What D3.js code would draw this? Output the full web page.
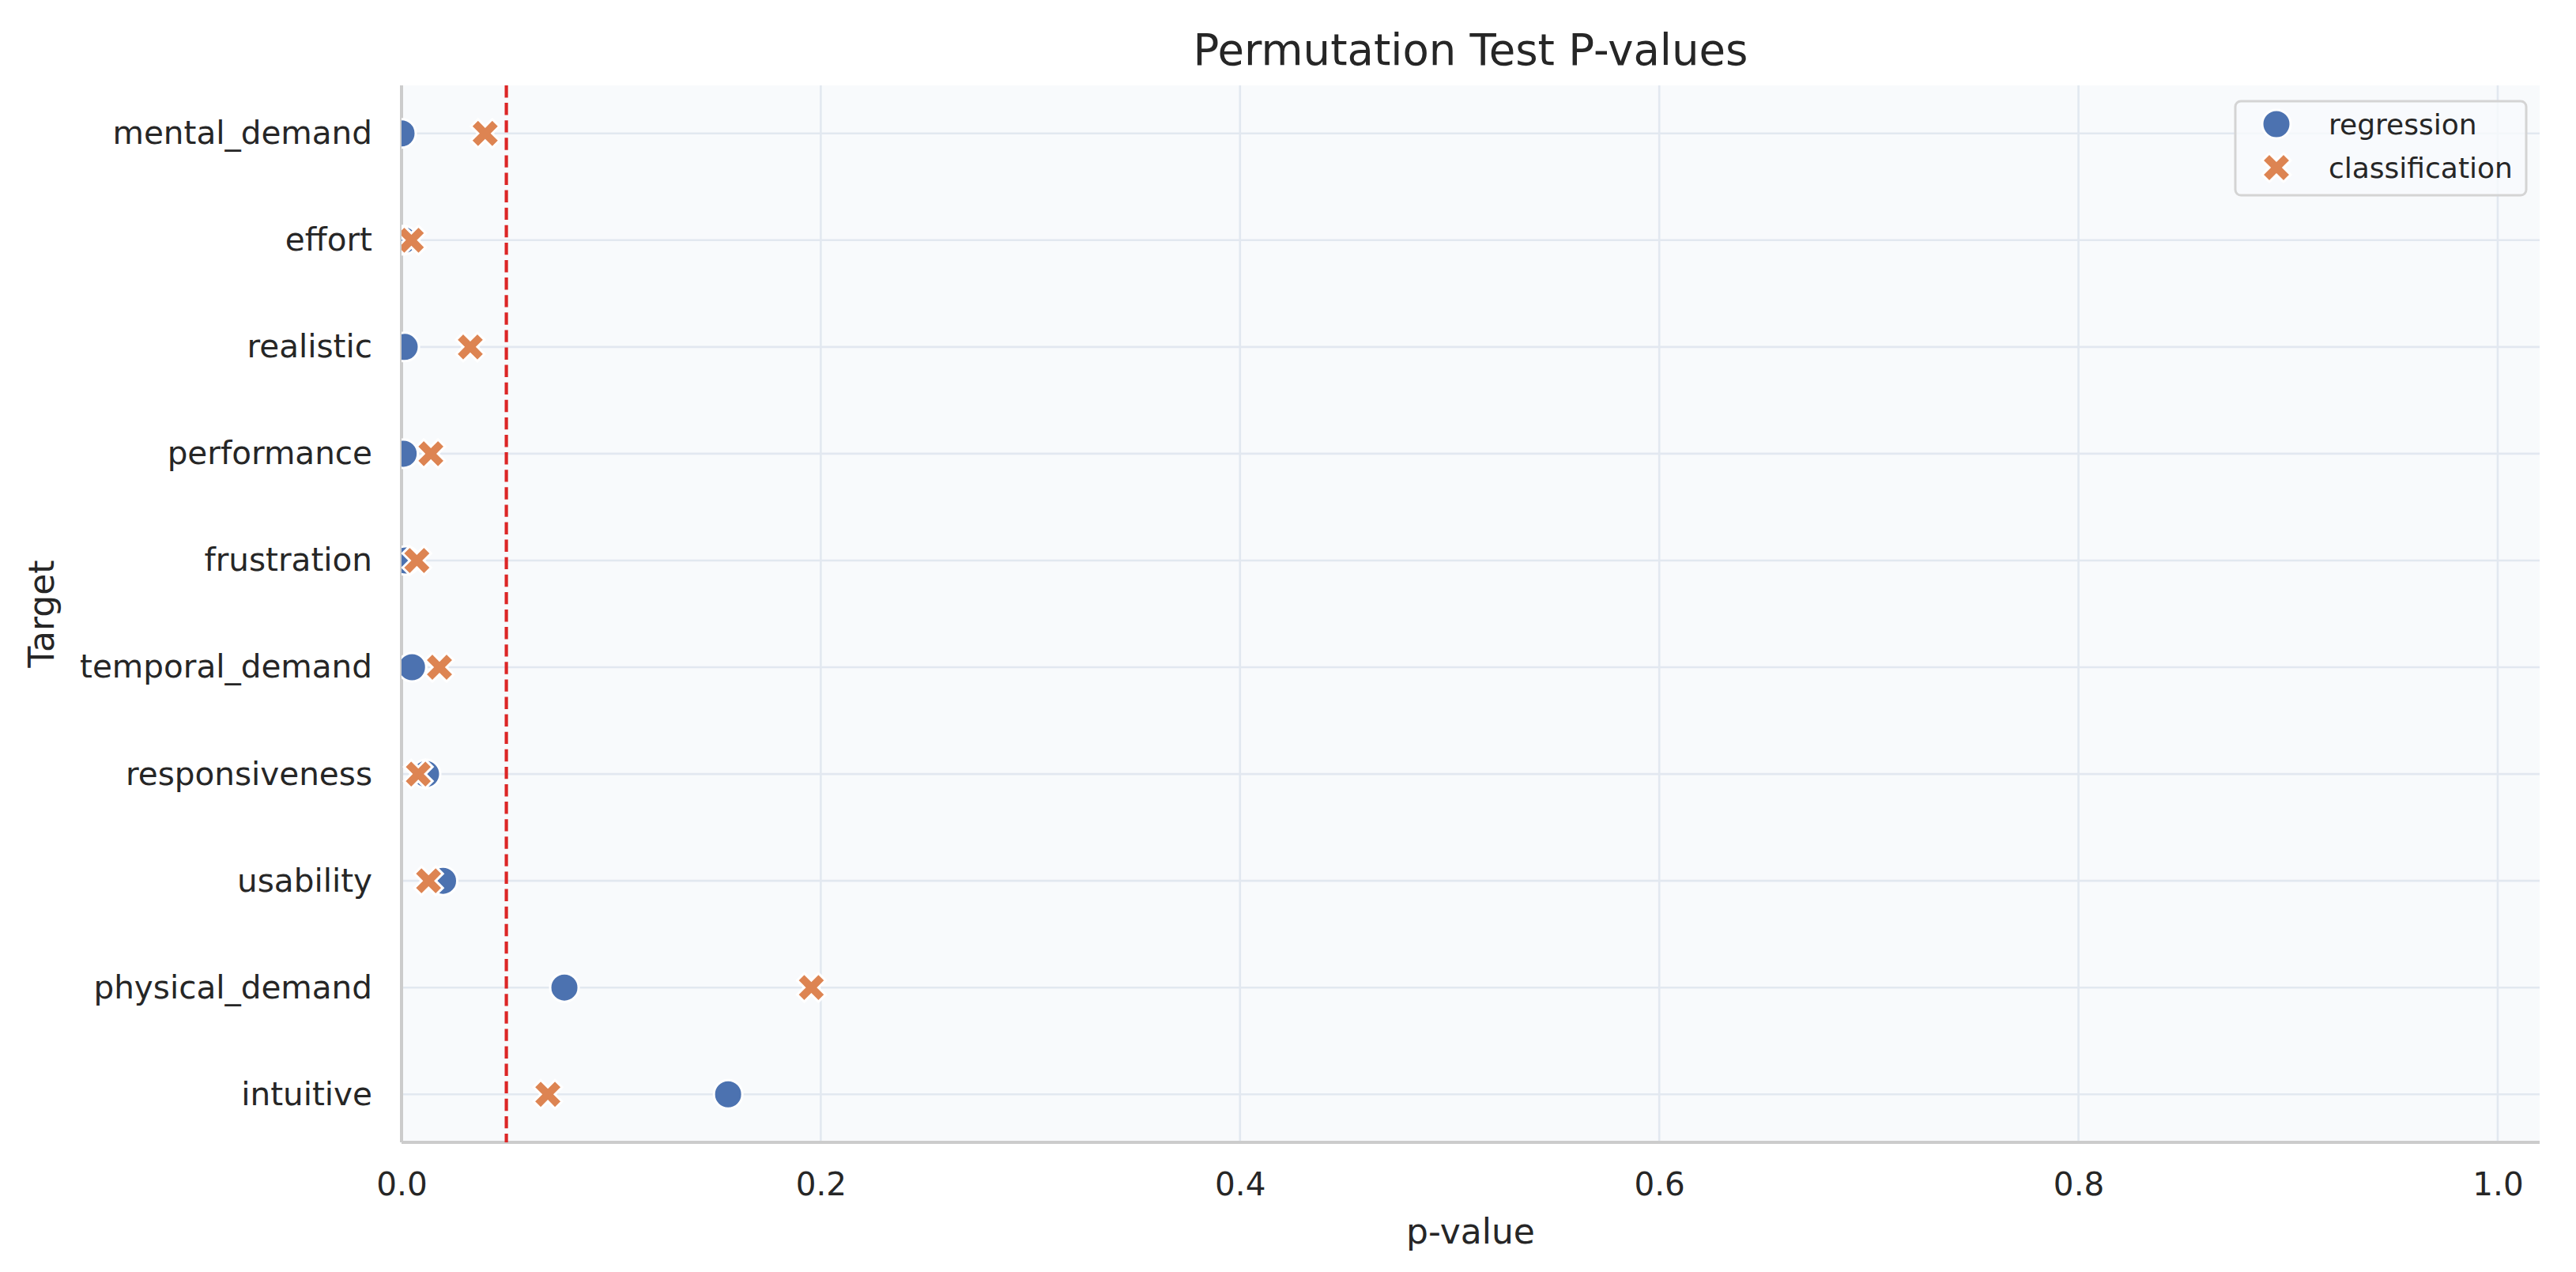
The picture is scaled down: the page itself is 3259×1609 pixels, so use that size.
<!DOCTYPE html>
<html>
<head>
<meta charset="utf-8">
<script src="https://cdn.jsdelivr.net/npm/d3@7"></script>
<style>
  body { margin: 0; background: #ffffff; }
  text { font-family: "DejaVu Sans", sans-serif; fill: #262626; }
</style>
</head>
<body>
<div id="chart"></div>
<script>
const targets = ['mental_demand', 'effort', 'realistic', 'performance', 'frustration',
  'temporal_demand', 'responsiveness', 'usability', 'physical_demand', 'intuitive']
const regressionP = [0.0, 0.001, 0.0015, 0.001, 0.002, 0.005, 0.0117, 0.0198, 0.0777, 0.1558]
const classificationP = [0.0399, 0.0047, 0.0328, 0.014, 0.0073, 0.0181, 0.008, 0.0129, 0.1955, 0.0698]
const xTicks = [0, 0.2, 0.4, 0.6, 0.8, 1.0]
const alpha = 0.05

const width = 3259
const height = 1609
const margin = { top: 108, right: 46, bottom: 164, left: 508 }
const innerW = width - margin.left - margin.right
const innerH = height - margin.top - margin.bottom

const blue = '#4c72b0'
const orange = '#dd8452'
const markerSize = 36

const svg = d3.select('#chart')
  .append('svg')
  .attr('width', width)
  .attr('height', height)

svg.append('rect').attr('width', width).attr('height', height).attr('fill', '#ffffff')

const x = d3.scaleLinear().domain([0, 1.02]).range([0, innerW])
const y = d3.scaleLinear().domain([-0.45, targets.length - 1 + 0.45]).range([0, innerH])

const g = svg.append('g').attr('transform', `translate(${margin.left},${margin.top})`)

g.append('rect')
  .attr('width', innerW)
  .attr('height', innerH)
  .attr('fill', '#f8fafc')

svg.append('defs').append('clipPath').attr('id', 'plot-clip')
  .append('rect').attr('width', innerW).attr('height', innerH)

// grid
g.append('g')
  .selectAll('line')
  .data(xTicks)
  .join('line')
  .attr('x1', d => x(d)).attr('x2', d => x(d))
  .attr('y1', 0).attr('y2', innerH)
  .attr('stroke', '#e2e8f0')
  .attr('stroke-width', 2.6)

g.append('g')
  .selectAll('line')
  .data(targets)
  .join('line')
  .attr('x1', 0).attr('x2', innerW)
  .attr('y1', (d, i) => y(i)).attr('y2', (d, i) => y(i))
  .attr('stroke', '#e2e8f0')
  .attr('stroke-width', 2.6)

// x axis
const xAxis = g.append('g')
  .attr('transform', `translate(0,${innerH})`)
  .call(d3.axisBottom(x).tickValues(xTicks).tickFormat(d3.format('.1f')).tickSize(0).tickPadding(38))
xAxis.select('.domain').remove()
xAxis.selectAll('text').style('font-size', '40.5px').attr('fill', '#262626')

// y axis
const yAxis = g.append('g')
  .call(d3.axisLeft(y).tickValues(d3.range(targets.length)).tickFormat(i => targets[i]).tickSize(0).tickPadding(37))
yAxis.select('.domain').remove()
yAxis.selectAll('text').style('font-size', '40.5px').attr('fill', '#262626')

// spines
g.append('line')
  .attr('x1', 0).attr('x2', 0).attr('y1', 0).attr('y2', innerH)
  .attr('stroke', '#cccccc').attr('stroke-width', 4)
g.append('line')
  .attr('x1', 0).attr('x2', innerW).attr('y1', innerH).attr('y2', innerH)
  .attr('stroke', '#cccccc').attr('stroke-width', 4)

// filled "X" marker outline, in units of the marker size
const xShape = [[-1, -2], [0, -1], [1, -2], [2, -1], [1, 0], [2, 1], [1, 2], [0, 1], [-1, 2], [-2, 1], [-1, 0], [-2, -1]]
const xMarker = () => d3.line()(xShape.map(p => [p[0] / 4 * markerSize, p[1] / 4 * markerSize])) + 'Z'
const circleMarker = d3.symbol().type(d3.symbolCircle).size(Math.PI * (markerSize / 2) ** 2)

const marks = g.append('g').attr('clip-path', 'url(#plot-clip)')

marks.selectAll('path.reg')
  .data(regressionP)
  .join('path')
  .attr('class', 'reg')
  .attr('d', circleMarker)
  .attr('transform', (d, i) => `translate(${x(d)},${y(i)})`)
  .attr('fill', blue)
  .attr('stroke', '#ffffff')
  .attr('stroke-width', 3)

marks.selectAll('path.cls')
  .data(classificationP)
  .join('path')
  .attr('class', 'cls')
  .attr('d', xMarker)
  .attr('transform', (d, i) => `translate(${x(d)},${y(i)})`)
  .attr('fill', orange)
  .attr('stroke', '#ffffff')
  .attr('stroke-width', 3)

// significance threshold
g.append('line')
  .attr('x1', x(alpha)).attr('x2', x(alpha))
  .attr('y1', 0).attr('y2', innerH)
  .attr('stroke', '#dc2626')
  .attr('stroke-width', 4.2)
  .attr('stroke-dasharray', '15.4,6.7')

// legend
const legend = g.append('g').attr('transform', `translate(${innerW - 385},20)`)
legend.append('rect')
  .attr('width', 368).attr('height', 119)
  .attr('rx', 7)
  .attr('fill', '#f8fafc')
  .attr('fill-opacity', 0.8)
  .attr('stroke', '#d4d4d4')
  .attr('stroke-width', 3)

const legendItems = [
  { label: 'regression', color: blue, d: circleMarker() },
  { label: 'classification', color: orange, d: xMarker() }
]
const item = legend.selectAll('g.item')
  .data(legendItems)
  .join('g')
  .attr('class', 'item')
  .attr('transform', (d, i) => `translate(0,${29 + i * 55})`)
item.append('path')
  .attr('d', d => d.d)
  .attr('transform', 'translate(52,0)')
  .attr('fill', d => d.color)
  .attr('stroke', '#ffffff')
  .attr('stroke-width', 3)
item.append('text')
  .attr('x', 118)
  .attr('dy', '0.35em')
  .style('font-size', '36px')
  .text(d => d.label)

// titles
svg.append('text')
  .attr('x', margin.left + innerW / 2)
  .attr('y', 82)
  .attr('text-anchor', 'middle')
  .style('font-size', '54.5px')
  .text('Permutation Test P-values')

svg.append('text')
  .attr('x', margin.left + innerW / 2)
  .attr('y', 1573)
  .attr('text-anchor', 'middle')
  .style('font-size', '44px')
  .text('p-value')

svg.append('text')
  .attr('transform', `translate(68,${margin.top + innerH / 2}) rotate(-90)`)
  .attr('text-anchor', 'middle')
  .style('font-size', '44px')
  .text('Target')
</script>
</body>
</html>
